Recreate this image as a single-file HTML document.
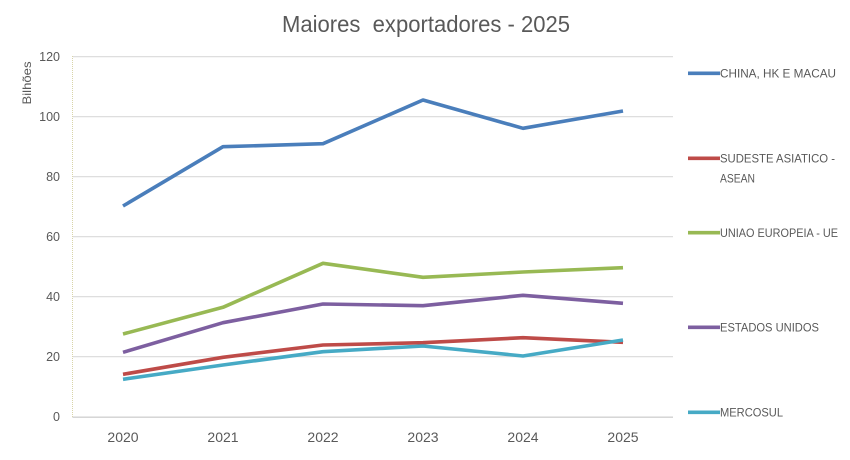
<!DOCTYPE html>
<html>
<head>
<meta charset="utf-8">
<style>
html,body{margin:0;padding:0;background:#fff;}
svg{display:block;}
text{font-family:"Liberation Sans",sans-serif;fill:#595959;}
</style>
</head>
<body>
<svg width="850" height="460" viewBox="0 0 850 460" xmlns="http://www.w3.org/2000/svg">
<rect width="850" height="460" fill="#fff"/>
<!-- title -->
<text x="426" y="32" font-size="23" text-anchor="middle" textLength="288" lengthAdjust="spacingAndGlyphs" xml:space="preserve">Maiores  exportadores - 2025</text>
<!-- gridlines -->
<g stroke="#d9d9d9" stroke-width="1.2">
<line x1="73" y1="56.7" x2="673" y2="56.7"/>
<line x1="73" y1="116.7" x2="673" y2="116.7"/>
<line x1="73" y1="176.7" x2="673" y2="176.7"/>
<line x1="73" y1="236.7" x2="673" y2="236.7"/>
<line x1="73" y1="296.7" x2="673" y2="296.7"/>
<line x1="73" y1="356.7" x2="673" y2="356.7"/>
</g>
<line x1="72.5" y1="417.2" x2="673" y2="417.2" stroke="#d0d0d0" stroke-width="1.3"/>
<line x1="72.5" y1="56" x2="72.5" y2="417" stroke="#d8d4a8" stroke-width="1" stroke-dasharray="1,1"/>
<!-- y labels -->
<g font-size="12.5" text-anchor="end">
<text x="60" y="61">120</text>
<text x="60" y="121">100</text>
<text x="60" y="181">80</text>
<text x="60" y="241">60</text>
<text x="60" y="301">40</text>
<text x="60" y="361">20</text>
<text x="60" y="421">0</text>
</g>
<text transform="translate(31,83) rotate(-90)" font-size="12" text-anchor="middle" textLength="43" lengthAdjust="spacingAndGlyphs">Bilhões</text>
<!-- x labels -->
<g font-size="14" text-anchor="middle">
<text x="123" y="442">2020</text>
<text x="223" y="442">2021</text>
<text x="323" y="442">2022</text>
<text x="423" y="442">2023</text>
<text x="523" y="442">2024</text>
<text x="623" y="442">2025</text>
</g>
<!-- series -->
<g fill="none" stroke-width="3.6" stroke-linejoin="round" stroke-linecap="butt">
<polyline stroke="#4a7ebb" points="123,206 223,146.7 323,143.7 423,100 523,128.3 623,111"/>
<polyline stroke="#be4b48" points="123,374.3 223,357.3 323,345 423,342.7 523,337.7 623,342.3"/>
<polyline stroke="#98b954" points="123,334 223,307.3 323,263.3 423,277.3 523,272 623,267.7"/>
<polyline stroke="#7d5fa0" points="123,352.3 223,322.7 323,304 423,305.7 523,295.3 623,303.3"/>
<polyline stroke="#46aac5" points="123,379.3 223,365 323,351.7 423,346 523,356 623,340"/>
</g>
<!-- legend -->
<g stroke-width="3.6">
<line x1="688" y1="73.3" x2="720" y2="73.3" stroke="#4a7ebb"/>
<line x1="688" y1="158.3" x2="720" y2="158.3" stroke="#be4b48"/>
<line x1="688" y1="232.7" x2="720" y2="232.7" stroke="#98b954"/>
<line x1="688" y1="327.3" x2="720" y2="327.3" stroke="#7d5fa0"/>
<line x1="688" y1="412.3" x2="720" y2="412.3" stroke="#46aac5"/>
</g>
<g font-size="12">
<text x="720" y="77.5" textLength="116" lengthAdjust="spacingAndGlyphs">CHINA, HK E MACAU</text>
<text x="720" y="162.5" textLength="115" lengthAdjust="spacingAndGlyphs">SUDESTE ASIATICO -</text>
<text x="720" y="182.3" textLength="35" lengthAdjust="spacingAndGlyphs">ASEAN</text>
<text x="720" y="237" textLength="118" lengthAdjust="spacingAndGlyphs">UNIAO EUROPEIA - UE</text>
<text x="720" y="331.5" textLength="99" lengthAdjust="spacingAndGlyphs">ESTADOS UNIDOS</text>
<text x="720" y="416.5" textLength="63" lengthAdjust="spacingAndGlyphs">MERCOSUL</text>
</g>
</svg>
</body>
</html>
